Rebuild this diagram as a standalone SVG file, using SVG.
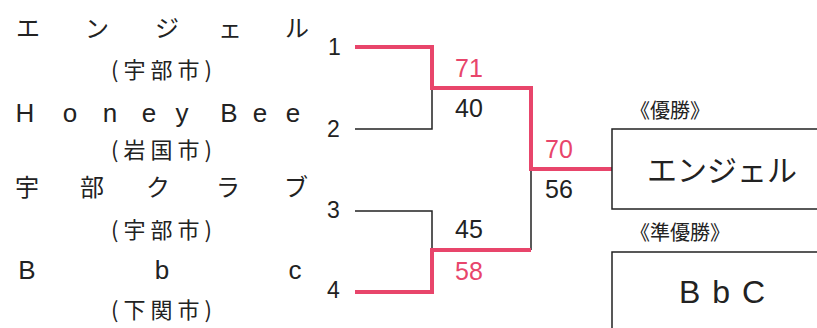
<svg xmlns="http://www.w3.org/2000/svg" width="817" height="328" viewBox="0 0 817 328">
<style>
.jp{font-family:"Noto Sans CJK JP","Noto Sans",sans-serif;fill:#222}
.en{font-family:"Liberation Sans",Arial,sans-serif;fill:#222}
.name{font-size:24px;text-anchor:middle}
.ename{font-size:26px;text-anchor:middle}
.city{font-size:22px;text-anchor:middle;letter-spacing:5px}
.seed{font-family:"Liberation Sans",Arial,sans-serif;font-size:23px;fill:#222}
.score{font-family:"Liberation Sans",Arial,sans-serif;font-size:25px;fill:#222}
.win{fill:#e8456b}
.bk{fill:none;stroke:#222;stroke-width:1.5}
.rd{fill:none;stroke:#e8456b;stroke-width:4}
.box{fill:#fff;stroke:#222;stroke-width:1.5}
</style>
<rect width="817" height="328" fill="#fff"/>
<g id="team1">
<text class="jp name" y="37"><tspan x="28">エ</tspan><tspan x="97">ン</tspan><tspan x="167">ジ</tspan><tspan x="230">ェ</tspan><tspan x="297">ル</tspan></text>
<text class="jp city" x="164" y="78">(宇部市)</text>
</g>
<g id="team2">
<text class="en ename" y="122"><tspan x="25">H</tspan><tspan x="70">o</tspan><tspan x="110">n</tspan><tspan x="149">e</tspan><tspan x="182">y</tspan><tspan x="229">B</tspan><tspan x="260">e</tspan><tspan x="293">e</tspan></text>
<text class="jp city" x="164" y="158">(岩国市)</text>
</g>
<g id="team3">
<text class="jp name" y="196"><tspan x="27">宇</tspan><tspan x="92">部</tspan><tspan x="158">ク</tspan><tspan x="228">ラ</tspan><tspan x="296">ブ</tspan></text>
<text class="jp city" x="164" y="238">(宇部市)</text>
</g>
<g id="team4">
<text class="en ename" y="279"><tspan x="27">B</tspan><tspan x="162">b</tspan><tspan x="295">c</tspan></text>
<text class="jp city" x="164" y="318">(下関市)</text>
</g>
<g id="seeds">
<text class="seed" x="328" y="55">1</text>
<text class="seed" x="327" y="137">2</text>
<text class="seed" x="327" y="218">3</text>
<text class="seed" x="327" y="298">4</text>
</g>
<g id="connectors">
<path class="bk" d="M355 129H432V88"/>
<path class="bk" d="M355 211H432V250"/>
<path class="bk" d="M531 169V250"/>
<path class="rd" d="M355 47H432V88H531V169H612"/>
<path class="rd" d="M355 292H432V250H531"/>
</g>
<g id="scores">
<text class="score win" x="455" y="77">71</text>
<text class="score" x="455" y="117">40</text>
<text class="score win" x="545" y="158">70</text>
<text class="score" x="545" y="198">56</text>
<text class="score" x="455" y="238">45</text>
<text class="score win" x="455" y="280">58</text>
</g>
<g id="champion">
<text class="jp" x="630" y="118" font-size="20">《優勝》</text>
<rect class="box" x="612" y="129" width="220" height="80"/>
<text class="jp" x="722" y="181" font-size="30" text-anchor="middle">エンジェル</text>
</g>
<g id="runnerup">
<text class="jp" x="630" y="240" font-size="20">《準優勝》</text>
<rect class="box" x="612" y="252" width="220" height="100"/>
<text class="en" x="728" y="303" font-size="32" text-anchor="middle" letter-spacing="12">BbC</text>
</g>
</svg>
